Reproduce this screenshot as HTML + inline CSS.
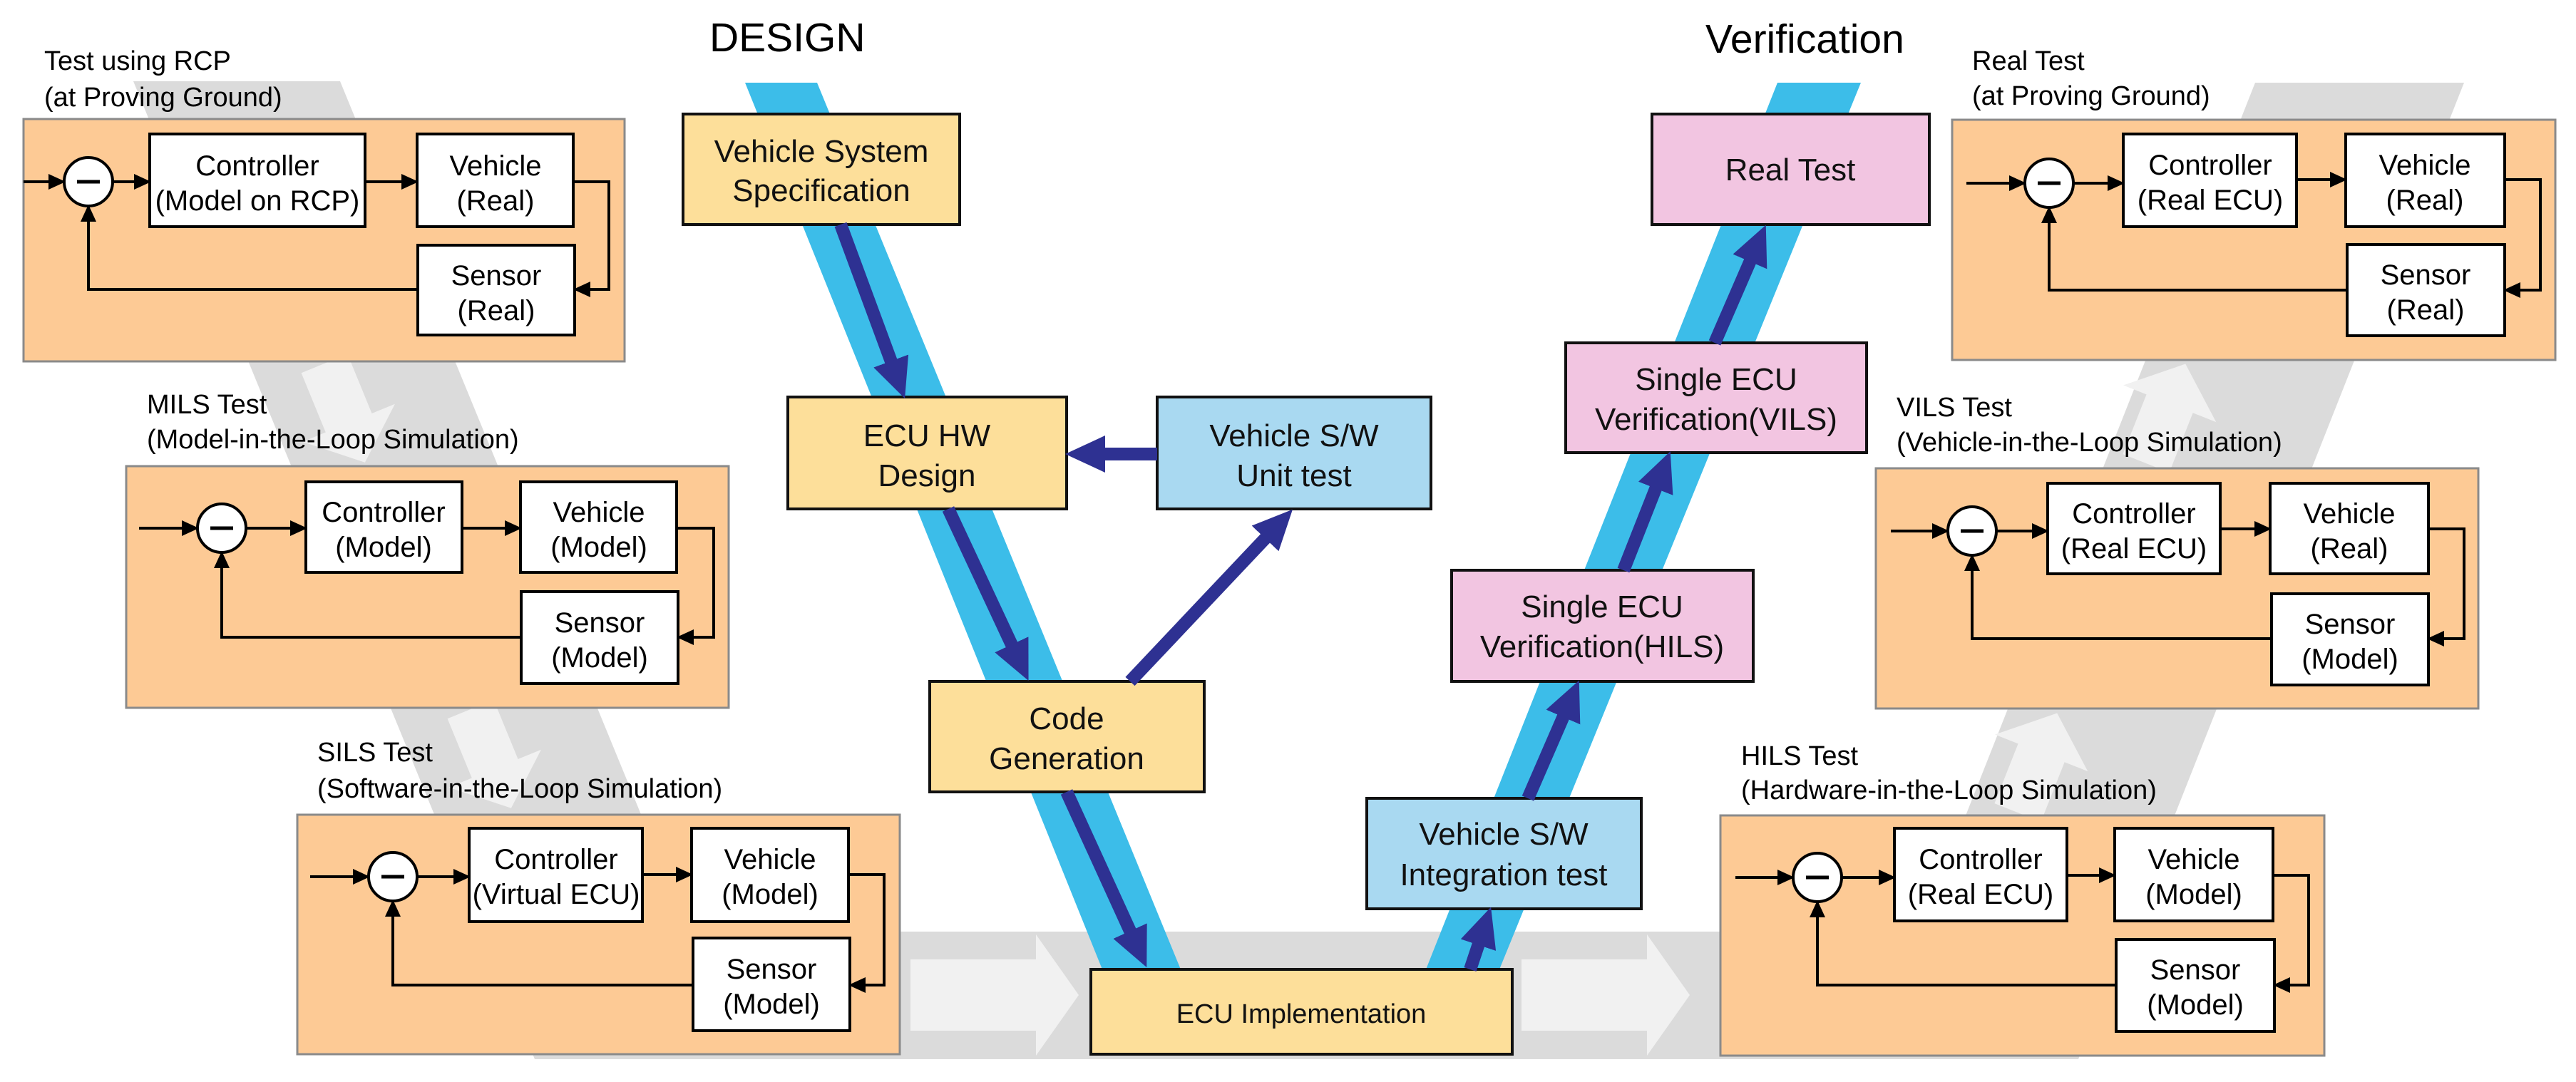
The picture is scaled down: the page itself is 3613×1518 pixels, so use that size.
<!DOCTYPE html>
<html><head><meta charset="utf-8"><style>
html,body{margin:0;padding:0;background:#fff;}
svg{display:block;font-family:"Liberation Sans","Noto Sans CJK KR",sans-serif;}
</style></head><body>
<svg width="3613" height="1518" viewBox="0 0 3613 1518" xmlns="http://www.w3.org/2000/svg">
<defs>
<marker id="ah" markerUnits="userSpaceOnUse" markerWidth="24" markerHeight="22" refX="22" refY="11" orient="auto"><path d="M0,0 L24,11 L0,22 z" fill="#000"/></marker>
<marker id="da" markerUnits="userSpaceOnUse" markerWidth="56" markerHeight="52" refX="24" refY="26" orient="auto"><path d="M0,0 L56,26 L0,52 z" fill="#2e3192"/></marker>
</defs>
<!-- gray background bands -->
<g fill="#dbdbdb">
<polygon points="187,114 477,114 1040,1486 750,1486"/>
<rect x="750" y="1307" width="1950" height="179"/>
<polygon points="3163,116 3456,116 2915,1486 2622,1486"/>
</g>
<g fill="#f1f1f1">
<g transform="translate(455,510) rotate(67.7)"><polygon points="0,-35 90,-35 90,-70 150,0 90,70 90,35 0,35"/></g>
<g transform="translate(660,995) rotate(67.7)"><polygon points="0,-35 90,-35 90,-70 150,0 90,70 90,35 0,35"/></g>
<g transform="translate(3010,650) rotate(-68.4)"><polygon points="0,-35 90,-35 90,-70 150,0 90,70 90,35 0,35"/></g>
<g transform="translate(2830,1140) rotate(-68.4)"><polygon points="0,-35 90,-35 90,-70 150,0 90,70 90,35 0,35"/></g>
<polygon points="1277,1346 1453,1346 1453,1311 1513,1396 1453,1481 1453,1446 1277,1446"/>
<polygon points="2134,1346 2310,1346 2310,1311 2370,1396 2310,1481 2310,1446 2134,1446"/>
</g>
<!-- blue bands -->
<polygon points="1045,116 1146,116 1656,1360 1546,1360" fill="#3cbde9"/>
<polygon points="2000,1360 2103,1360 2610,116 2493,116" fill="#3cbde9"/>

<!-- titles -->
<text x="995" y="72" font-size="57">DESIGN</text>
<text x="2392" y="74" font-size="57">Verification</text>

<!-- V boxes -->
<g stroke="#111" stroke-width="4" font-size="44" text-anchor="middle">
<rect x="958" y="160" width="388" height="155" fill="#fddf9a"/>
<rect x="1105" y="557" width="391" height="157" fill="#fddf9a"/>
<rect x="1623" y="557" width="384" height="157" fill="#a9d9f1"/>
<rect x="1304" y="956" width="385" height="155" fill="#fddf9a"/>
<rect x="1530" y="1360" width="591" height="119" fill="#fddf9a"/>
<rect x="1917" y="1120" width="385" height="155" fill="#a9d9f1"/>
<rect x="2036" y="800" width="423" height="156" fill="#f2c5e1"/>
<rect x="2196" y="481" width="422" height="154" fill="#f2c5e1"/>
<rect x="2317" y="160" width="389" height="155" fill="#f2c5e1"/>
</g>
<g font-size="44" text-anchor="middle" fill="#111">
<text x="1152" y="227">Vehicle System</text><text x="1152" y="282">Specification</text>
<text x="1300" y="626">ECU HW</text><text x="1300" y="682">Design</text>
<text x="1815" y="626">Vehicle S/W</text><text x="1815" y="682">Unit test</text>
<text x="1496" y="1023">Code</text><text x="1496" y="1079">Generation</text>
<text x="1825" y="1435" font-size="38">ECU Implementation</text>
<text x="2109" y="1185">Vehicle S/W</text><text x="2109" y="1242">Integration test</text>
<text x="2247" y="866">Single ECU</text><text x="2247" y="922">Verification(HILS)</text>
<text x="2407" y="547">Single ECU</text><text x="2407" y="603">Verification(VILS)</text>
<text x="2511" y="253">Real Test</text>
</g>

<!-- dark arrows -->
<g stroke="#2e3192" stroke-width="18" marker-end="url(#da)" fill="none">
<line x1="1179" y1="315" x2="1258" y2="529"/>
<line x1="1330" y1="714" x2="1429" y2="926"/>
<line x1="1496" y1="1111" x2="1595" y2="1328"/>
<line x1="1623" y1="637" x2="1526" y2="637"/>
<line x1="1585" y1="956" x2="1791" y2="738"/>
<line x1="2062" y1="1360" x2="2081" y2="1303"/>
<line x1="2143" y1="1120" x2="2202" y2="984"/>
<line x1="2277" y1="800" x2="2331" y2="663"/>
<line x1="2405" y1="481" x2="2464" y2="345"/>
</g>

<!-- panels -->
<g id="panels">
<!-- Panel 1 RCP -->
<g>
<text x="62" y="98" font-size="38">Test using RCP</text><text x="62" y="149" font-size="38">(at Proving Ground)</text>
<rect x="33" y="167" width="843" height="340" fill="#fdca95" stroke="#8a8a8a" stroke-width="3"/>
<g stroke="#000" stroke-width="4" fill="none">
<line x1="33" y1="255" x2="90" y2="255" marker-end="url(#ah)"/>
<line x1="158" y1="255" x2="210" y2="255" marker-end="url(#ah)"/>
<line x1="512" y1="255" x2="585" y2="255" marker-end="url(#ah)"/>
<polyline points="804,255 854,255 854,406 806,406" marker-end="url(#ah)"/>
<polyline points="586,406 124,406 124,289" marker-end="url(#ah)"/>
</g>
<circle cx="124" cy="255" r="34" fill="#fff" stroke="#000" stroke-width="4"/>
<line x1="108" y1="255" x2="140" y2="255" stroke="#000" stroke-width="5"/>
<g fill="#fff" stroke="#000" stroke-width="4"><rect x="210" y="188" width="302" height="130"/><rect x="585" y="188" width="219" height="130"/><rect x="586" y="344" width="220" height="126"/></g>
<g font-size="40" text-anchor="middle"><text x="361" y="246">Controller</text><text x="361" y="295">(Model on RCP)</text><text x="695" y="246">Vehicle</text><text x="695" y="295">(Real)</text><text x="696" y="400">Sensor</text><text x="696" y="449">(Real)</text></g>
</g>
<!-- Panel 2 MILS -->
<g>
<text x="206" y="580" font-size="38">MILS Test</text><text x="206" y="629" font-size="38">(Model-in-the-Loop Simulation)</text>
<rect x="177" y="654" width="845" height="339" fill="#fdca95" stroke="#8a8a8a" stroke-width="3"/>
<g stroke="#000" stroke-width="4" fill="none">
<line x1="195" y1="741" x2="277" y2="741" marker-end="url(#ah)"/>
<line x1="345" y1="741" x2="429" y2="741" marker-end="url(#ah)"/>
<line x1="648" y1="741" x2="730" y2="741" marker-end="url(#ah)"/>
<polyline points="949,741 1001,741 1001,894 951,894" marker-end="url(#ah)"/>
<polyline points="731,894 311,894 311,775" marker-end="url(#ah)"/>
</g>
<circle cx="311" cy="741" r="34" fill="#fff" stroke="#000" stroke-width="4"/>
<line x1="295" y1="741" x2="327" y2="741" stroke="#000" stroke-width="5"/>
<g fill="#fff" stroke="#000" stroke-width="4"><rect x="429" y="676" width="219" height="127"/><rect x="730" y="676" width="219" height="127"/><rect x="731" y="830" width="220" height="129"/></g>
<g font-size="40" text-anchor="middle"><text x="538" y="732">Controller</text><text x="538" y="781">(Model)</text><text x="840" y="732">Vehicle</text><text x="840" y="781">(Model)</text><text x="841" y="887">Sensor</text><text x="841" y="936">(Model)</text></g>
</g>
<!-- Panel 3 SILS -->
<g>
<text x="445" y="1068" font-size="38">SILS Test</text><text x="445" y="1119" font-size="38">(Software-in-the-Loop Simulation)</text>
<rect x="417" y="1143" width="845" height="336" fill="#fdca95" stroke="#8a8a8a" stroke-width="3"/>
<g stroke="#000" stroke-width="4" fill="none">
<line x1="435" y1="1230" x2="517" y2="1230" marker-end="url(#ah)"/>
<line x1="585" y1="1230" x2="658" y2="1230" marker-end="url(#ah)"/>
<line x1="901" y1="1227" x2="970" y2="1227" marker-end="url(#ah)"/>
<polyline points="1190,1227 1240,1227 1240,1382 1192,1382" marker-end="url(#ah)"/>
<polyline points="972,1382 551,1382 551,1264" marker-end="url(#ah)"/>
</g>
<circle cx="551" cy="1230" r="34" fill="#fff" stroke="#000" stroke-width="4"/>
<line x1="535" y1="1230" x2="567" y2="1230" stroke="#000" stroke-width="5"/>
<g fill="#fff" stroke="#000" stroke-width="4"><rect x="658" y="1162" width="243" height="131"/><rect x="970" y="1162" width="220" height="131"/><rect x="972" y="1316" width="220" height="130"/></g>
<g font-size="40" text-anchor="middle"><text x="780" y="1219">Controller</text><text x="780" y="1268">(Virtual ECU)</text><text x="1080" y="1219">Vehicle</text><text x="1080" y="1268">(Model)</text><text x="1082" y="1373">Sensor</text><text x="1082" y="1422">(Model)</text></g>
</g>
<!-- Panel 4 Real -->
<g>
<text x="2766" y="98" font-size="38">Real Test</text><text x="2766" y="147" font-size="38">(at Proving Ground)</text>
<rect x="2738" y="168" width="846" height="337" fill="#fdca95" stroke="#8a8a8a" stroke-width="3"/>
<g stroke="#000" stroke-width="4" fill="none">
<line x1="2758" y1="257" x2="2840" y2="257" marker-end="url(#ah)"/>
<line x1="2908" y1="257" x2="2978" y2="257" marker-end="url(#ah)"/>
<line x1="3221" y1="252" x2="3290" y2="252" marker-end="url(#ah)"/>
<polyline points="3513,252 3563,252 3563,407 3513,407" marker-end="url(#ah)"/>
<polyline points="3292,407 2874,407 2874,291" marker-end="url(#ah)"/>
</g>
<circle cx="2874" cy="257" r="34" fill="#fff" stroke="#000" stroke-width="4"/>
<line x1="2858" y1="257" x2="2890" y2="257" stroke="#000" stroke-width="5"/>
<g fill="#fff" stroke="#000" stroke-width="4"><rect x="2978" y="188" width="243" height="130"/><rect x="3290" y="188" width="223" height="130"/><rect x="3292" y="343" width="221" height="128"/></g>
<g font-size="40" text-anchor="middle"><text x="3100" y="245">Controller</text><text x="3100" y="294">(Real ECU)</text><text x="3401" y="245">Vehicle</text><text x="3401" y="294">(Real)</text><text x="3402" y="399">Sensor</text><text x="3402" y="448">(Real)</text></g>
</g>
<!-- Panel 5 VILS -->
<g>
<text x="2660" y="584" font-size="38">VILS Test</text><text x="2660" y="633" font-size="38">(Vehicle-in-the-Loop Simulation)</text>
<rect x="2631" y="657" width="845" height="337" fill="#fdca95" stroke="#8a8a8a" stroke-width="3"/>
<g stroke="#000" stroke-width="4" fill="none">
<line x1="2652" y1="745" x2="2732" y2="745" marker-end="url(#ah)"/>
<line x1="2800" y1="745" x2="2872" y2="745" marker-end="url(#ah)"/>
<line x1="3114" y1="742" x2="3184" y2="742" marker-end="url(#ah)"/>
<polyline points="3406,742 3456,742 3456,896 3406,896" marker-end="url(#ah)"/>
<polyline points="3186,896 2766,896 2766,779" marker-end="url(#ah)"/>
</g>
<circle cx="2766" cy="745" r="34" fill="#fff" stroke="#000" stroke-width="4"/>
<line x1="2750" y1="745" x2="2782" y2="745" stroke="#000" stroke-width="5"/>
<g fill="#fff" stroke="#000" stroke-width="4"><rect x="2872" y="678" width="242" height="127"/><rect x="3184" y="678" width="222" height="127"/><rect x="3186" y="833" width="220" height="128"/></g>
<g font-size="40" text-anchor="middle"><text x="2993" y="734">Controller</text><text x="2993" y="783">(Real ECU)</text><text x="3295" y="734">Vehicle</text><text x="3295" y="783">(Real)</text><text x="3296" y="889">Sensor</text><text x="3296" y="938">(Model)</text></g>
</g>
<!-- Panel 6 HILS -->
<g>
<text x="2442" y="1073" font-size="38">HILS Test</text><text x="2442" y="1121" font-size="38">(Hardware-in-the-Loop Simulation)</text>
<rect x="2413" y="1144" width="847" height="337" fill="#fdca95" stroke="#8a8a8a" stroke-width="3"/>
<g stroke="#000" stroke-width="4" fill="none">
<line x1="2434" y1="1231" x2="2515" y2="1231" marker-end="url(#ah)"/>
<line x1="2583" y1="1231" x2="2657" y2="1231" marker-end="url(#ah)"/>
<line x1="2899" y1="1228" x2="2966" y2="1228" marker-end="url(#ah)"/>
<polyline points="3188,1228 3238,1228 3238,1382 3190,1382" marker-end="url(#ah)"/>
<polyline points="2968,1382 2549,1382 2549,1265" marker-end="url(#ah)"/>
</g>
<circle cx="2549" cy="1231" r="34" fill="#fff" stroke="#000" stroke-width="4"/>
<line x1="2533" y1="1231" x2="2565" y2="1231" stroke="#000" stroke-width="5"/>
<g fill="#fff" stroke="#000" stroke-width="4"><rect x="2657" y="1162" width="242" height="130"/><rect x="2966" y="1162" width="222" height="130"/><rect x="2968" y="1318" width="222" height="129"/></g>
<g font-size="40" text-anchor="middle"><text x="2778" y="1219">Controller</text><text x="2778" y="1268">(Real ECU)</text><text x="3077" y="1219">Vehicle</text><text x="3077" y="1268">(Model)</text><text x="3079" y="1374">Sensor</text><text x="3079" y="1423">(Model)</text></g>
</g>
</g>
</svg>
</body></html>
